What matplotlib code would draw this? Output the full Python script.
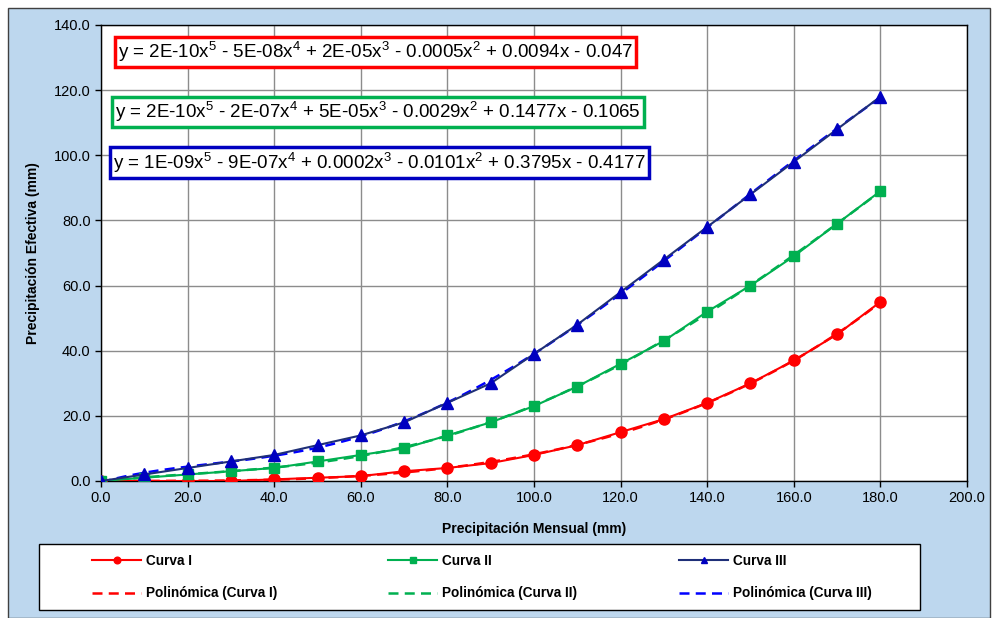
import matplotlib
matplotlib.use("Agg")
import matplotlib.pyplot as plt
from matplotlib.patches import Rectangle
import numpy as np

plt.rcParams['font.family'] = ['Liberation Sans', 'DejaVu Sans']
plt.rcParams['mathtext.fontset'] = 'custom'
plt.rcParams['mathtext.rm'] = 'Liberation Sans'
plt.rcParams['mathtext.it'] = 'Liberation Sans:italic'

# data
precip_mensual = [0, 10, 20, 30, 40, 50, 60, 70, 80, 90, 100,
                  110, 120, 130, 140, 150, 160, 170, 180]
curva_1 = [0, 0, 0, 0, 0.5, 1, 1.5, 3, 4, 5.5, 8,
           11, 15, 19, 24, 30, 37, 45, 55]
curva_2 = [0, 1, 2, 3, 4, 6, 8, 10, 14, 18, 23,
           29, 36, 43, 52, 60, 69, 79, 89]
curva_3 = [0, 2, 4, 6, 8, 11, 14, 18, 24, 30, 39,
           48, 58, 68, 78, 88, 98, 108, 118]

ecuaciones = [
    r"y = 2E-10x$^{5}$ - 5E-08x$^{4}$ + 2E-05x$^{3}$ - 0.0005x$^{2}$ + 0.0094x - 0.047",
    r"y = 2E-10x$^{5}$ - 2E-07x$^{4}$ + 5E-05x$^{3}$ - 0.0029x$^{2}$ + 0.1477x - 0.1065",
    r"y = 1E-09x$^{5}$ - 9E-07x$^{4}$ + 0.0002x$^{3}$ - 0.0101x$^{2}$ + 0.3795x - 0.4177",
]

RED = '#FF0000'
GREEN = '#00B050'
BLUE = '#0000C0'
NAVY = '#1F2F78'

W, H = 992, 618
fig = plt.figure(figsize=(W / 100, H / 100), dpi=100)
fig.patch.set_facecolor('white')
# light blue chart area and white legend frame (pixel coords -> figure fraction)
fig.patches.append(Rectangle((8 / W, 0.0), 982 / W, 610 / H,
                             transform=fig.transFigure, facecolor='#BDD7EE',
                             edgecolor='#404040', linewidth=1, zorder=-10))
fig.patches.append(Rectangle((39 / W, 1 - 610 / H), 881 / W, 66 / H,
                             transform=fig.transFigure, facecolor='white',
                             edgecolor='black', linewidth=1, zorder=-5))

ax = fig.add_axes([101 / W, 1 - 481 / H, 866 / W, 456 / H])
ax.set_facecolor('white')

x = np.array(precip_mensual, dtype=float)
xs = np.linspace(0, 180, 200)

series = [
    ('Curva I', curva_1, RED, RED, 'o', 8),
    ('Curva II', curva_2, GREEN, GREEN, 's', 7.5),
    ('Curva III', curva_3, NAVY, BLUE, '^', 8),
]
trend_colors = [RED, GREEN, '#0000FF']

pairs = []
for (name, vals, lc, mc, mk, ms), tc in zip(series, trend_colors):
    y = np.array(vals, dtype=float)
    h1, = ax.plot(x, y, color=lc, lw=1.5, marker=mk, ms=ms, mfc=mc, mec=mc,
                  label=name, zorder=4)
    coef = np.polyfit(x, y, 5)
    h2, = ax.plot(xs, np.polyval(coef, xs), color=tc, lw=1.8, ls=(0, (4, 2.5)),
                  label='Polinómica (%s)' % name, zorder=3)
    pairs.append((h1, h2))

ax.set_xlim(0, 200)
ax.set_ylim(0, 140)
ax.set_xticks(np.arange(0, 201, 20))
ax.set_yticks(np.arange(0, 141, 20))
ax.xaxis.set_major_formatter(lambda v, p: '%.1f' % v)
ax.yaxis.set_major_formatter(lambda v, p: '%.1f' % v)
ax.tick_params(labelsize=10.5, direction='out', length=4, width=1, colors='black')
ax.grid(True, color='#8C8C8C', lw=1)
ax.set_axisbelow(True)
for s in ax.spines.values():
    s.set_color('black')
    s.set_linewidth(1)

ax.set_xlabel('Precipitación Mensual (mm)', fontsize=10, fontweight='bold', labelpad=12)
ax.set_ylabel('Precipitación Efectiva (mm)', fontsize=10, fontweight='bold', labelpad=10)

# equation boxes
box_y = [131.7, 113.3, 97.7]
box_x = [3.9, 3.3, 2.8]
for eq, yy, xx, ec in zip(ecuaciones, box_y, box_x, [RED, GREEN, BLUE]):
    ax.text(xx, yy, eq, fontsize=13.5, va='center', ha='left', zorder=6,
            bbox=dict(boxstyle='square,pad=0.18', fc='white', ec=ec, lw=2.5))

# one small legend per column, so the columns sit where they do in the original
col_x = [92, 388, 679]
for (h1, h2), cx in zip(pairs, col_x):
    fig.legend(handles=[h1, h2], loc='upper left',
               bbox_to_anchor=(cx / W, 1 - 554 / H), frameon=False,
               prop={'weight': 'bold', 'size': 9.8}, handlelength=3.6,
               handletextpad=0.4, markerscale=0.6, borderpad=0,
               borderaxespad=0, labelspacing=1.35)

fig.savefig('out.png', dpi=100, facecolor=fig.get_facecolor())
